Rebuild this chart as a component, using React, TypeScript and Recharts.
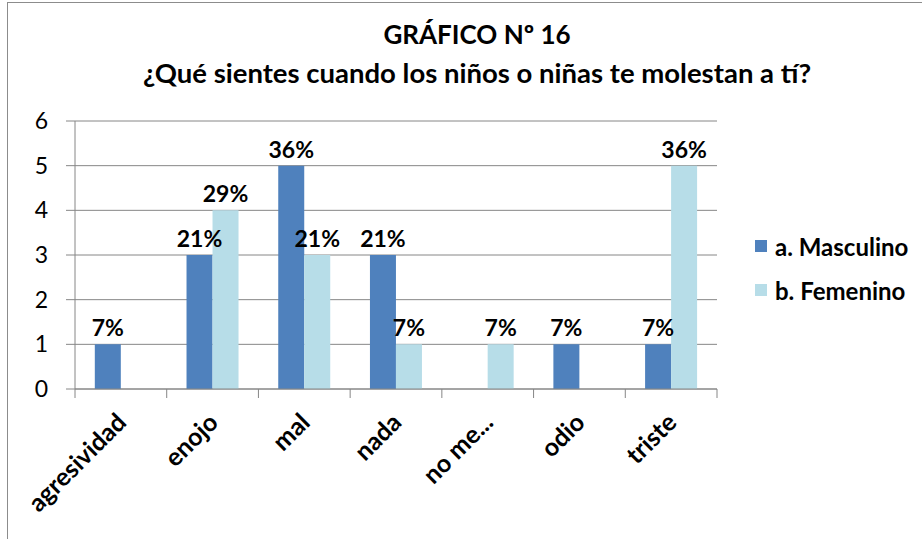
import { BarChart, Bar, XAxis, YAxis, CartesianGrid, Legend, LabelList } from "recharts";

// Pregunta: ¿Qué sientes cuando los niños o niñas te molestan a tí?
const categories = ["agresividad", "enojo", "mal", "nada", "no me...", "odio", "triste"];
const masculino = [1, 3, 5, 3, 0, 1, 1];
const femenino = [0, 4, 3, 1, 1, 0, 5];
const masculinoPct = ["7%", "21%", "36%", "21%", "", "7%", "7%"];
const femeninoPct = ["", "29%", "21%", "7%", "7%", "", "36%"];
const yTicks = [0, 1, 2, 3, 4, 5, 6];

const seriesNames = ["a. Masculino", "b. Femenino"];
const colors = ["#4f81bd", "#b7dde8"];

const data = categories.map((c, i) => ({
  name: c,
  masc: masculino[i],
  fem: femenino[i],
  mascPct: masculinoPct[i],
  femPct: femeninoPct[i],
}));

const FONT = "Lato, 'Open Sans', sans-serif";
const W = 922;
const H = 539;
const margin = { top: 121, right: 205, bottom: 0, left: 0 };
const yAxisW = 75;
const halfBand = (W - margin.right - margin.left - yAxisW) / categories.length / 2;

const XTick = (props: any) => {
  const { x, y, payload, index } = props;
  const last = index === categories.length - 1;
  const tx = x + 7;
  const ty = y + 27;
  return (
    <g>
      <line x1={x - halfBand} y1={y - 8} x2={x - halfBand} y2={y + 1} stroke="#868686" />
      {last && <line x1={x + halfBand} y1={y - 8} x2={x + halfBand} y2={y + 1} stroke="#868686" />}
      <text
        x={tx}
        y={ty}
        transform={`rotate(-45 ${tx} ${ty})`}
        textAnchor="end"
        fontFamily={FONT}
        fontWeight="bold"
        fontSize={25}
        fill="#000"
      >
        {payload.value}
      </text>
    </g>
  );
};

const LegendBox = () => (
  <div style={{ fontFamily: FONT, fontWeight: "bold", fontSize: 24, color: "#000" }}>
    {seriesNames.map((n, i) => (
      <div key={n} style={{ display: "flex", alignItems: "center", height: 44 }}>
        <span style={{ width: 12, height: 12, background: colors[i], marginRight: 8, display: "inline-block" }} />
        {n}
      </div>
    ))}
  </div>
);

const labelStyle = { fontFamily: FONT, fontWeight: "bold", fontSize: 23, fill: "#000" };

export default function App() {
  return (
    <div style={{ position: "absolute", left: 0, top: 0, width: W, height: H, overflow: "hidden", background: "#fff" }}>
      <div
        style={{
          position: "absolute",
          left: 7,
          top: 2,
          width: 960,
          height: 600,
          border: "1.5px solid #8c8c8c",
        }}
      />
      <div
        style={{
          position: "absolute",
          left: 0,
          width: W,
          top: 16,
          textAlign: "center",
          fontFamily: FONT,
          fontWeight: "bold",
          color: "#000",
          paddingLeft: 32,
          boxSizing: "border-box",
        }}
      >
        <div style={{ fontSize: 26, lineHeight: "36px" }}>GRÁFICO Nº 16</div>
        <div style={{ fontSize: 27.5, lineHeight: "42px" }}>¿Qué sientes cuando los niños o niñas te molestan a tí?</div>
      </div>
      <div style={{ position: "absolute", left: 0, top: 0 }}>
        <BarChart width={W} height={H} data={data} margin={margin} barGap={0} barCategoryGap="21.6%">
          <CartesianGrid vertical={false} stroke="#868686" />
          <XAxis
            dataKey="name"
            height={150}
            interval={0}
            tickLine={false}
            axisLine={{ stroke: "#868686" }}
            tick={<XTick />}
          />
          <YAxis
            width={yAxisW}
            domain={[0, 6]}
            ticks={yTicks}
            tickSize={9}
            tickMargin={18}
            tickLine={{ stroke: "#868686" }}
            axisLine={{ stroke: "#868686" }}
            tick={{ fontFamily: FONT, fontSize: 23, fill: "#000" }}
          />
          <Legend
            layout="horizontal"
            verticalAlign="middle"
            align="center"
            content={<LegendBox />}
            wrapperStyle={{ position: "absolute", left: 755, top: 224, width: 167 }}
          />
          <Bar dataKey="masc" name={seriesNames[0]} fill={colors[0]} isAnimationActive={false}>
            <LabelList dataKey="mascPct" position="top" offset={8} style={labelStyle} />
          </Bar>
          <Bar dataKey="fem" name={seriesNames[1]} fill={colors[1]} isAnimationActive={false}>
            <LabelList dataKey="femPct" position="top" offset={8} style={labelStyle} />
          </Bar>
        </BarChart>
      </div>
    </div>
  );
}
